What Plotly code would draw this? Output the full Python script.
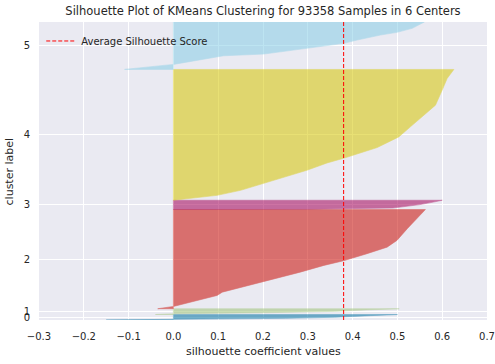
import plotly.graph_objects as go

# ---------------- data ----------------
n_samples = 93358
n_centers = 6
cluster_labels = ["0", "1", "2", "3", "4", "5"]
cluster_sizes = [1700, 1800, 31100, 2900, 41000, 14858]
cluster_colors = ["#0272a2", "#9fc377", "#ca0b03", "#a50258", "#d7c703", "#88cee6"]

# sorted silhouette profiles: fraction of cluster height (bottom -> top) and coefficient value
frac_0 = [0.0, 0.05, 0.12, 0.3, 0.5, 0.8, 1.0]
vals_0 = [-0.15, -0.06, 0.0, 0.25, 0.36, 0.44, 0.50]

frac_1 = [0.0, 0.1, 0.13, 0.3, 0.55, 0.8, 1.0]
vals_1 = [-0.04, -0.035, 0.0, 0.2, 0.36, 0.43, 0.504]

frac_2 = [0.0, 0.023, 0.134, 0.167, 0.262, 0.369, 0.437, 0.484, 0.555, 0.621, 0.689, 0.807, 1.0]
vals_2 = [-0.035, 0.0, 0.0975, 0.109, 0.194, 0.283, 0.336, 0.380, 0.432, 0.477, 0.499, 0.522, 0.5625]

frac_3 = [0.0, 0.04, 0.16, 0.53, 0.8, 1.0]
vals_3 = [0.0, 0.30, 0.49, 0.55, 0.58, 0.60]

frac_4 = [0.0, 0.0375, 0.0758, 0.122, 0.173, 0.229, 0.285, 0.321, 0.403, 0.484, 0.561, 0.650, 0.727, 0.842, 0.931, 1.0]
vals_4 = [0.0, 0.0975, 0.15, 0.194, 0.246, 0.298, 0.343, 0.380, 0.455, 0.503, 0.529, 0.559, 0.585, 0.600, 0.611, 0.626]

frac_5 = [0.0, 0.106, 0.197, 0.268, 0.288, 0.324, 0.444, 0.550, 0.620, 0.725, 0.782, 0.867, 1.0]
vals_5 = [-0.109, 0.0, 0.06, 0.0975, 0.112, 0.2016, 0.298, 0.380, 0.41, 0.462, 0.499, 0.533, 0.56]

profile_fracs = [frac_0, frac_1, frac_2, frac_3, frac_4, frac_5]
profile_vals = [vals_0, vals_1, vals_2, vals_3, vals_4, vals_5]

avg_score = 0.380
x_tick_vals = [-0.3, -0.2, -0.1, 0.0, 0.1, 0.2, 0.3, 0.4, 0.5, 0.6, 0.7]
x_tick_text = ["−0.3", "−0.2", "−0.1", "0.0", "0.1", "0.2", "0.3", "0.4", "0.5", "0.6", "0.7"]

x_title = "silhouette coefficient values"
y_title = "cluster label"

# ---------------- figure ----------------
fig = go.Figure()
y_lower = 10
tick_pos = []
for i in range(n_centers):
    size = cluster_sizes[i]
    y_upper = y_lower + size
    ys = [y_lower + f * size for f in profile_fracs[i]]
    xs = list(profile_vals[i])
    px = [0] + xs + [0, 0]
    py = [y_lower] + ys + [y_upper, y_lower]
    fig.add_trace(go.Scatter(
        x=px, y=py, mode="lines", fill="toself",
        fillcolor=cluster_colors[i], opacity=0.55,
        line=dict(color=cluster_colors[i], width=0.6),
        showlegend=False, hoverinfo="skip",
    ))
    tick_pos.append(y_lower + 0.5 * size)
    y_lower = y_upper + 10

y_max = n_samples + (n_centers + 1) * 10

fig.add_trace(go.Scatter(
    x=[avg_score, avg_score], y=[0, y_max], mode="lines",
    line=dict(color="red", width=1, dash="4px,2px"),
    name="Average Silhouette Score",
))

text_color = "#262626"
fig.update_layout(
    width=495, height=364,
    margin=dict(l=39, r=8, t=22, b=44, pad=0),
    paper_bgcolor="white", plot_bgcolor="#EAEAF2",
    font=dict(family="DejaVu Sans", size=10, color=text_color),
    title=dict(text=f"Silhouette Plot of KMeans Clustering for {n_samples} Samples in {n_centers} Centers",
               xref="paper", x=0.5, xanchor="center", y=0.969, yanchor="middle",
               font=dict(size=11.5, color=text_color)),
    showlegend=True,
    legend=dict(x=0.005, y=0.985, xanchor="left", yanchor="top",
                bgcolor="rgba(0,0,0,0)", font=dict(size=10, color=text_color),
                itemwidth=30),
    xaxis=dict(range=[-0.3, 0.7], tickvals=x_tick_vals, ticktext=x_tick_text,
               showgrid=True, gridcolor="white", gridwidth=1, zeroline=False,
               showline=False, ticks="outside", ticklen=7, tickcolor="rgba(0,0,0,0)",
               automargin=False, tickfont=dict(size=10, color=text_color)),
    yaxis=dict(range=[0, y_max], tickvals=tick_pos, ticktext=cluster_labels,
               showgrid=True, gridcolor="white", gridwidth=1, zeroline=False,
               showline=False, ticks="outside", ticklen=6, tickcolor="rgba(0,0,0,0)",
               automargin=False, tickfont=dict(size=10, color=text_color)),
    annotations=[
        dict(text=x_title, xref="paper", yref="paper", x=0.5, y=-0.106,
             xanchor="center", yanchor="middle", showarrow=False,
             font=dict(size=11, color=text_color)),
        dict(text=y_title, xref="paper", yref="paper", x=-0.066, y=0.5,
             xanchor="center", yanchor="middle", showarrow=False, textangle=-90,
             font=dict(size=11, color=text_color)),
    ],
)

fig.write_html("out.html", config={"displayModeBar": False},
               post_script="document.body.style.margin='0';document.body.style.padding='0';")
